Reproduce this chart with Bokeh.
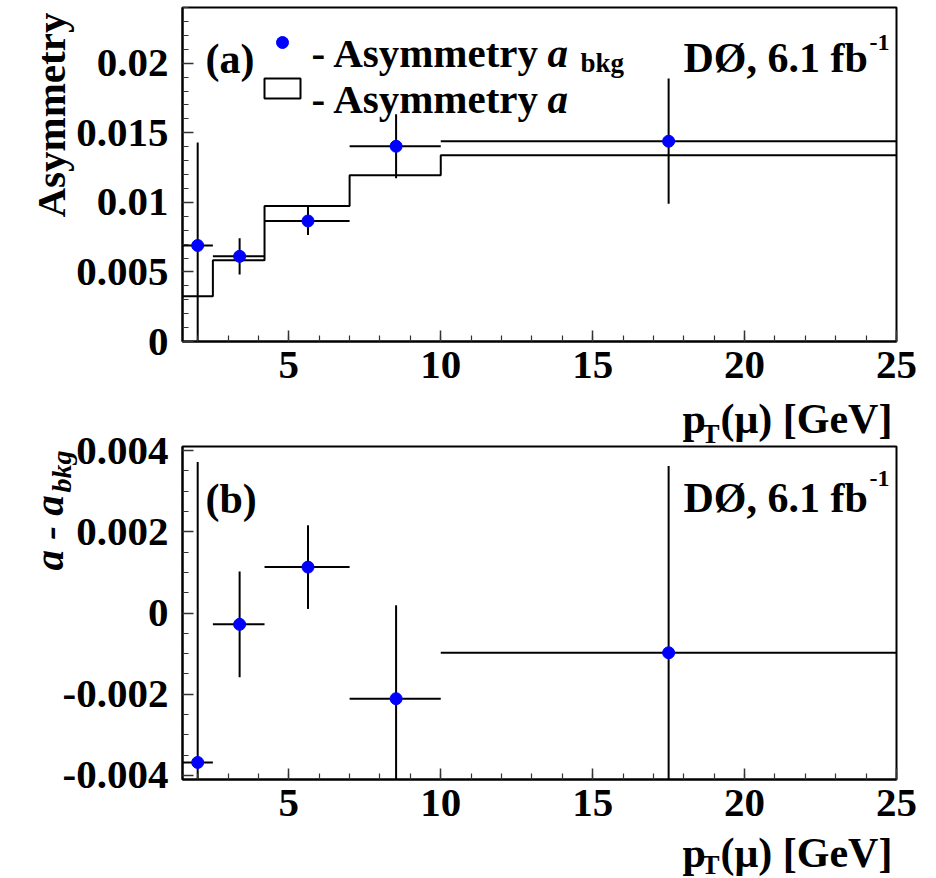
import math
from bokeh.plotting import figure
from bokeh.layouts import column
from bokeh.models import Range1d, FixedTicker, CustomJSTickFormatter
from bokeh.core.properties import value
from bokeh.embed import file_html
from bokeh.resources import INLINE

# ---------------- data ----------------
bin_lo = [1.5, 2.5, 4.2, 7.0, 10.0]
bin_hi = [2.5, 4.2, 7.0, 10.0, 25.0]
pt_x = [2.0, 3.38, 5.63, 8.53, 17.5]
a_bkg = [0.0069, 0.00612, 0.00866, 0.01403, 0.01439]
a_bkg_err = [0.0074, 0.0013, 0.0010, 0.0023, 0.0045]
a_hist = [0.00326, 0.00583, 0.00973, 0.01194, 0.01338]
diff = [-0.00368, -0.00028, 0.00113, -0.00211, -0.00098]
diff_err = [0.0074, 0.0013, 0.00103, 0.0023, 0.0046]

x_ticks = [5, 10, 15, 20, 25]
top_y_ticks = [0, 0.005, 0.01, 0.015, 0.02]
bot_y_ticks = [-0.004, -0.002, 0, 0.002, 0.004]

FONT = "Liberation Serif"
W = 936
PAGE_H = 878
FL, FR = 182, 896  # frame left/right (page pixels)
XR = (1.5, 25.0)


class Geom:
    """Frame geometry of one figure in page pixels (used only to place text)."""
    def __init__(self, ft, fb, yr):
        self.ft, self.fb, self.yr = ft, fb, yr

    def x(self, px):
        return XR[0] + (px - FL) / (FR - FL) * (XR[1] - XR[0])

    def y(self, py):
        return self.yr[1] - (py - self.ft) / (self.fb - self.ft) * (self.yr[1] - self.yr[0])


def make_fig(y0, h, g, yticks, yminor):
    p = figure(width=W, height=h, x_range=Range1d(*XR), y_range=Range1d(*g.yr),
               output_backend="svg", toolbar_location=None,
               min_border_left=FL, min_border_right=W - FR,
               min_border_top=g.ft - y0, min_border_bottom=y0 + h - g.fb,
               background_fill_color="white", border_fill_color="white")
    p.xgrid.visible = False
    p.ygrid.visible = False
    p.outline_line_color = "black"
    p.outline_line_width = 2
    p.outline_line_alpha = 1
    p.xaxis.ticker = FixedTicker(ticks=x_ticks, minor_ticks=list(range(2, 26)))
    p.yaxis.ticker = FixedTicker(ticks=yticks, minor_ticks=yminor)
    p.yaxis.formatter = CustomJSTickFormatter(code="return String(Number(tick.toFixed(5)));")
    for ax in (p.xaxis[0], p.yaxis[0]):
        ax.axis_line_width = 2
        ax.axis_line_color = "black"
        ax.major_tick_in = 11
        ax.major_tick_out = 0
        ax.minor_tick_in = 6
        ax.minor_tick_out = 0
        ax.major_tick_line_color = "#333333"
        ax.minor_tick_line_color = "#333333"
        ax.major_tick_line_width = 1.5
        ax.minor_tick_line_width = 1.2
        ax.major_label_text_font = FONT
        ax.major_label_text_font_style = "bold"
        ax.major_label_text_font_size = "41px"
        ax.major_label_text_color = "black"
    p.xaxis.major_label_standoff = 10
    p.yaxis.major_label_standoff = 14
    return p


def txt(p, g, px, py, text, size, style="bold", angle=0.0):
    p.text(x=[g.x(px)], y=[g.y(py)], text=[text], text_font=value(FONT),
           text_font_size=value(f"{size}px"), text_font_style=style,
           text_color="black", text_align="left", text_baseline="alphabetic",
           angle=angle, level="overlay")


def draw_points(p, yvals, yerrs):
    p.segment(x0=bin_lo, x1=bin_hi, y0=yvals, y1=yvals, line_color="black", line_width=2)
    lo = [v - e for v, e in zip(yvals, yerrs)]
    hi = [v + e for v, e in zip(yvals, yerrs)]
    p.segment(x0=pt_x, x1=pt_x, y0=lo, y1=hi, line_color="black", line_width=2)
    p.scatter(x=pt_x, y=yvals, size=12, marker="circle", fill_color="#0000ff", line_color="#0000ff")


def x_title(p, g, base, sub):
    txt(p, g, 682, base, "p", 42)
    txt(p, g, 701, base + sub, "T", 27)
    txt(p, g, 720, base, "(\u03bc) [GeV]", 42)


# ---------------- top panel (page y 0..SPLIT) ----------------
SPLIT = 392
gt = Geom(7, 341, (0.0, 0.024))
top = make_fig(0, SPLIT, gt, top_y_ticks, [round(i * 0.001, 4) for i in range(25)])

step_x = bin_lo + [bin_hi[-1]]
step_y = a_hist + [a_hist[-1]]
top.step(x=step_x, y=step_y, mode="after", line_color="black", line_width=2)
draw_points(top, a_bkg, a_bkg_err)

# y title
txt(top, gt, 50, 217, "Asymmetry", 41, "bold", math.pi / 2)
# legend
txt(top, gt, 205, 58, "(a)", 42)
top.scatter(x=[gt.x(282)], y=[gt.y(42)], size=12, marker="circle", fill_color="#0000ff", line_color="#0000ff")
txt(top, gt, 311, 52, "- Asymmetry", 41)
txt(top, gt, 547, 52, "a", 41, "bold italic")
txt(top, gt, 580, 62, "bkg", 27)
top.quad(left=[gt.x(264)], right=[gt.x(300)], top=[gt.y(78)], bottom=[gt.y(98)],
         fill_color="white", line_color="black", line_width=2)
txt(top, gt, 311, 98, "- Asymmetry", 41)
txt(top, gt, 547, 98, "a", 41, "bold italic")
txt(top, gt, 683, 57, "D\u00d8, 6.1 fb", 42)
txt(top, gt, 869, 42, "-1", 24)

# ---------------- bottom panel (page y SPLIT..878) ----------------
gb = Geom(446, 779, (-0.0041, 0.0041))
bot = make_fig(SPLIT, PAGE_H - SPLIT, gb, bot_y_ticks, [round(-0.004 + i * 0.0005, 5) for i in range(17)])
draw_points(bot, diff, diff_err)

# x title of the top panel lies in the bottom figure's upper border
x_title(bot, gb, 418, 15)
txt(bot, gb, 205, 498, "(b)", 42)
txt(bot, gb, 683, 497, "D\u00d8, 6.1 fb", 42)
txt(bot, gb, 869, 478, "-1", 24)
x_title(bot, gb, 852, 12)
# rotated y title: a - a_bkg
txt(bot, gb, 48, 570, "a - a", 41, "bold italic", math.pi / 2)
txt(bot, gb, 61, 492, "bkg", 28, "bold italic", math.pi / 2)

layout = column(top, bot, spacing=0)
open("out.html", "w").write(file_html(layout, INLINE))
